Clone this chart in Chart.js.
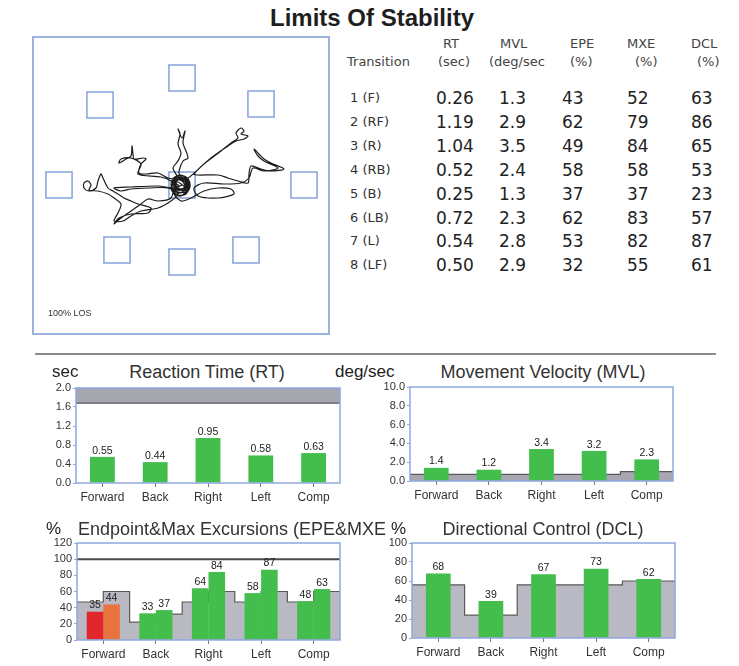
<!DOCTYPE html>
<html>
<head>
<meta charset="utf-8">
<script src="https://cdn.jsdelivr.net/npm/chart.js@4.4.0/dist/chart.umd.min.js"></script>
<style>
  html, body { margin: 0; padding: 0; background: #fff; }
  #page { position: relative; width: 739px; height: 666px; overflow: hidden;
          font-family: "Liberation Sans", Arial, sans-serif; color: #2b2b2b; }
  .abs { position: absolute; white-space: nowrap; }
  .title { font-weight: bold; font-size: 24px; line-height: 26px; color: #1e1e1e; text-align: center; }
  .ctitle { font-size: 18px; line-height: 20px; color: #333; }
  .unit { font-size: 17px; line-height: 20px; color: #222; }
  .tbl { font-family: "DejaVu Sans", Verdana, sans-serif; }
  .hdr { font-size: 13px; line-height: 16px; color: #444; }
  .rowlab { font-size: 13px; line-height: 24px; color: #333; }
  .val { font-size: 17px; line-height: 24px; color: #222; }
  canvas { position: absolute; }
</style>
</head>
<body>
<div id="page">
  <div class="abs title" style="left:222px; top:5px; width:300px;">Limits Of Stability</div>

  <!-- trace panel -->
  <div class="abs" style="left:32px; top:36px; width:294px; height:295px; border:2px solid #9cb2de;"></div>
  <canvas id="trace" width="294" height="295" style="left:34px; top:38px;"></canvas>
  <div class="abs" style="left:48px; top:307px; font-size:9px; line-height:12px; color:#333;">100% LOS</div>

  <!-- results table -->
  <div id="table" class="tbl"></div>

  <div class="abs" style="left:35px; top:353px; width:681px; height:2px; background:#8c8c8c;"></div>

  <!-- chart headings -->
  <div class="abs unit" style="left:52px; top:362px;">sec</div>
  <div class="abs ctitle" style="left:107px; top:362px; width:200px; text-align:center;">Reaction Time (RT)</div>
  <div class="abs unit" style="left:335px; top:362px;">deg/sec</div>
  <div class="abs ctitle" style="left:433px; top:362px; width:220px; text-align:center;">Movement Velocity (MVL)</div>
  <div class="abs unit" style="left:46px; top:519px;">%</div>
  <div class="abs ctitle" style="left:78px; top:519px;">Endpoint&amp;Max Excursions (EPE&amp;MXE</div>
  <div class="abs unit" style="left:391px; top:519px;">%</div>
  <div class="abs ctitle" style="left:433px; top:519px; width:220px; text-align:center;">Directional Control (DCL)</div>

  <canvas id="rt-bg"></canvas><canvas id="rt"></canvas>
  <canvas id="mvl-bg"></canvas><canvas id="mvl"></canvas>
  <canvas id="epe-bg"></canvas><canvas id="epe"></canvas>
  <canvas id="dcl-bg"></canvas><canvas id="dcl"></canvas>
</div>

<script>
// ---- Transition table ----
const transitions = ['1 (F)', '2 (RF)', '3 (R)', '4 (RB)', '5 (B)', '6 (LB)', '7 (L)', '8 (LF)'];
const tableRT  = ['0.26', '1.19', '1.04', '0.52', '0.25', '0.72', '0.54', '0.50'];
const tableMVL = ['1.3', '2.9', '3.5', '2.4', '1.3', '2.3', '2.8', '2.9'];
const tableEPE = [43, 62, 49, 58, 37, 62, 53, 32];
const tableMXE = [52, 79, 84, 58, 37, 83, 82, 55];
const tableDCL = [63, 86, 65, 53, 23, 57, 87, 61];

// ---- Summary bar charts ----
const directions = ['Forward', 'Back', 'Right', 'Left', 'Comp'];
const rtValues  = [0.55, 0.44, 0.95, 0.58, 0.63];
const rtLimit   = [1.68, 1.68, 1.68, 1.68, 1.68];
const mvlValues = [1.4, 1.2, 3.4, 3.2, 2.3];
const mvlNorm   = [0.7, 0.7, 0.7, 0.7, 1.0];
const epeValues = [35, 33, 64, 58, 48];
const mxeValues = [44, 37, 84, 87, 63];
const epeNorm   = [47, 22, 47, 47, 47];
const mxeNorm   = [60, 32, 60, 60, 60];
const dclValues = [68, 39, 67, 73, 62];
const dclNorm   = [56, 24, 56, 56, 60];

// ---- Target layout and centre-of-gravity trace (LOS units, centre = 0,0) ----
const targetX = [0, 0, -82, 79, -123, 122, -65, 0, 64];
const targetY = [0, 107, 80, 81, 0, 0, -65, -77, -65];
const traceX = [-3,-8,2,6,-1,-9,-9,1,7,4,-6,-11,-4,4,2,-4,-7,-3,5,6,-5,-8,0,7,3,-5,-10,-2,6,8,2,-7,-11,-6,3,1,-6,-9,-1,5,0,-8,-10,-4,4,8,4,-3,-10,-7,0,3,-4,-6,
  -4,-9,-4,-1,-4,-2,-4,0,3,1,4,6,1,-3,-3,
  -14,-24,-36,-43,-41,-36,-39,-48,-49,-50,-51,-56,-63,-61,-51,-41,-44,-21,-11,
  -5,5,6,-2,
  6,22,39,49,56,54,59,62,59,66,62,54,46,29,12,
  16,36,46,56,66,67,69,79,89,102,89,82,77,72,76,82,96,82,71,67,59,42,22,12,
  16,36,52,49,36,22,9,-1,
  -8,3,-6,
  -11,-24,-34,-41,-51,-61,-68,-63,-51,-34,-31,-44,-51,-58,-64,-69,-74,-79,-81,-84,-86,-93,-98,-98,-94,-91,-93,-84,-74,-68,-61,-64,-68,-59,-51,-41,-24,-11,-4,
  -14,-34,-51,-61,-68,-51,-24,-8,0];
const traceY = [-1,4,6,-3,-11,-6,2,7,1,-9,-10,-3,5,2,-6,-8,-1,7,4,-6,-7,0,9,3,-5,-2,5,10,6,-2,-10,-9,1,8,3,-4,-4,4,6,0,-7,-6,0,9,8,1,-7,-11,-4,5,4,-2,-4,2,
  7,17,24,32,41,51,56,47,54,42,34,27,24,14,7,
  7,12,11,12,21,26,27,26,31,39,29,26,22,26,27,21,11,8,4,
  -4,-5,4,8,
  7,21,34,42,47,52,57,54,51,49,46,44,39,27,11,
  10,10,7,4,2,11,19,16,14,16,22,26,31,36,29,24,17,14,17,7,2,1,2,-3,
  -11,-13,-9,-4,-3,-6,-13,-16,
  -8,-3,3,
  -13,-16,-14,-19,-26,-33,-39,-33,-29,-28,-23,-19,-16,-13,-9,-6,-3,7,11,4,-3,-6,-3,2,4,0,-5,-6,-9,-13,-19,-28,-36,-36,-31,-26,-23,-16,-9,
  -3,-3,-4,-6,-3,-2,-1,-3,0];

// build the table as text
(function buildTable() {
  const host = document.getElementById('table');
  const add = (cls, text, left, top) => {
    const d = document.createElement('div');
    d.className = 'abs ' + cls;
    d.style.left = left + 'px';
    d.style.top = top + 'px';
    d.textContent = text;
    host.appendChild(d);
  };
  const heads = [
    ['RT', 443, 36], ['(sec)', 438, 54],
    ['MVL', 500, 36], ['(deg/sec', 489, 54],
    ['EPE', 570, 36], ['(%)', 570, 54],
    ['MXE', 627, 36], ['(%)', 635, 54],
    ['DCL', 691, 36], ['(%)', 697, 54],
    ['Transition', 347, 54]
  ];
  heads.forEach(h => add('hdr', h[0], h[1], h[2]));
  const y0 = 86, step = 23.9;
  transitions.forEach((t, i) => {
    const top = Math.round(y0 + i * step);
    add('rowlab', t, 350, top);
    add('val', tableRT[i], 436, top);
    add('val', tableMVL[i], 499, top);
    add('val', String(tableEPE[i]), 562, top);
    add('val', String(tableMXE[i]), 627, top);
    add('val', String(tableDCL[i]), 691, top);
  });
})();

Chart.defaults.font.family = '"Liberation Sans", Arial, sans-serif';
Chart.defaults.color = '#333';
Chart.defaults.animation = false;
Chart.defaults.plugins.legend.display = false;
Chart.defaults.plugins.tooltip.enabled = false;

// ---- trace panel ----
new Chart(document.getElementById('trace'), {
  type: 'scatter',
  data: {
    datasets: [
      {
        data: traceX.map((x, i) => ({ x, y: traceY[i] })),
        showLine: true, pointRadius: 0, borderColor: '#1c1c1c', borderWidth: 1.2,
        tension: 0.3
      },
      {
        data: targetX.map((x, i) => ({ x, y: targetY[i] })),
        pointStyle: 'rect', pointRadius: 18.5, pointBorderWidth: 1.5,
        pointBorderColor: '#86a2da', pointBackgroundColor: 'rgba(255,255,255,0)',
        showLine: false
      }
    ]
  },
  options: {
    responsive: false,
    layout: { padding: 0, autoPadding: false },
    scales: {
      x: { type: 'linear', min: -148, max: 146, display: false },
      y: { type: 'linear', min: -148, max: 147, display: false }
    }
  }
});

// ---- bar chart helpers ----
const BLUE = '#8ea8de';
const GREEN = '#43be4c';
const GRAY_FILL = '#b9b9c3';
const GRAY_LINE = '#5f5858';
const NONE = 'rgba(0,0,0,0)';

function framePlugin(fmt) {
  return {
    id: 'frameAndValues',
    afterDatasetsDraw(chart) {
      const { ctx, chartArea: a } = chart;
      ctx.save();
      ctx.font = '10.5px "Liberation Sans", Arial, sans-serif';
      ctx.fillStyle = '#222';
      ctx.textAlign = 'center';
      ctx.textBaseline = 'bottom';
      chart.data.datasets.forEach((ds, i) => {
        chart.getDatasetMeta(i).data.forEach((bar, j) => {
          ctx.fillText(fmt(ds.data[j]), bar.x, bar.y - 1);
        });
      });
      ctx.strokeStyle = BLUE;
      ctx.lineWidth = 1.5;
      ctx.strokeRect(a.left, a.top, a.right - a.left, a.bottom - a.top);
      ctx.restore();
    }
  };
}

function stepPoints(first, second) {
  // one value per category (or two per category, split in halves)
  const pts = [];
  first.forEach((v, i) => {
    pts.push({ x: i, y: v });
    if (second) pts.push({ x: i + 0.5, y: second[i] });
  });
  const last = second ? second[second.length - 1] : first[first.length - 1];
  pts.push({ x: first.length, y: last });
  return pts;
}

const yW = 46, xH = 24, padT = 10, padR = 10;

function scaleOptions(cfg, visible) {
  const tickCol = visible ? '#333' : NONE;
  return {
    x: {
      type: 'category', offset: true,
      grid: { display: true, drawOnChartArea: false, offset: false, tickLength: 4,
              color: visible ? '#777' : NONE },
      border: { display: false },
      ticks: { font: { size: 12 }, padding: 3, color: tickCol, maxRotation: 0, autoSkip: false },
      afterFit(s) { s.height = xH; }
    },
    xs: { type: 'linear', min: 0, max: directions.length, display: false },
    y: {
      min: cfg.min, max: cfg.max,
      ticks: { stepSize: cfg.step, font: { size: 11 }, padding: 2, color: tickCol,
               autoSkip: false, callback: cfg.tick },
      grid: { drawOnChartArea: false, tickLength: 3, color: visible ? BLUE : NONE },
      border: { display: false },
      afterFit(s) { s.width = yW; }
    }
  };
}

function place(cv, area) {
  cv.width = area.R - area.L + yW + padR;
  cv.height = area.B - area.T + padT + xH;
  cv.style.left = (area.L - yW) + 'px';
  cv.style.top = (area.T - padT) + 'px';
}

function barChart(id, area, cfg) {
  const layout = { padding: { top: padT, right: padR, left: 0, bottom: 0 }, autoPadding: false };
  // reference bands (normal ranges) underneath
  const bg = document.getElementById(id + '-bg');
  place(bg, area);
  new Chart(bg, {
    type: 'line',
    data: { labels: directions, datasets: cfg.bands },
    options: { responsive: false, layout, scales: scaleOptions(cfg, false) }
  });
  // measured bars, axes and frame on top
  const cv = document.getElementById(id);
  place(cv, area);
  new Chart(cv, {
    type: 'bar',
    data: { labels: directions, datasets: cfg.bars },
    options: { responsive: false, layout, scales: scaleOptions(cfg, true) },
    plugins: [framePlugin(cfg.fmt)]
  });
}

function bars(values, colors, pct) {
  return { data: values, backgroundColor: colors, borderWidth: 0,
           categoryPercentage: pct, barPercentage: 1 };
}
function band(points, fill, color) {
  return { data: points, xAxisID: 'xs', stepped: true, fill: fill,
           backgroundColor: color || GRAY_FILL, borderColor: GRAY_LINE, borderWidth: 1.2,
           pointRadius: 0 };
}

// Reaction time
barChart('rt', { L: 76, T: 388, R: 340, B: 483 }, {
  min: 0, max: 2, step: 0.4, tick: v => v.toFixed(1), fmt: v => v.toFixed(2),
  bars: [bars(rtValues, GREEN, 0.47)],
  bands: [band(stepPoints(rtLimit), 'end', '#a6a6ae')]
});

// Movement velocity
barChart('mvl', { L: 410, T: 387, R: 673, B: 481 }, {
  min: 0, max: 10, step: 2, tick: v => v.toFixed(1), fmt: v => v.toFixed(1),
  bars: [bars(mvlValues, GREEN, 0.47)],
  bands: [band(stepPoints(mvlNorm), 'origin', '#a7a7b3')]
});

// Endpoint & maximum excursion
barChart('epe', { L: 77, T: 543, R: 340, B: 640 }, {
  min: 0, max: 120, step: 20, tick: v => String(v), fmt: v => String(v),
  bars: [
    bars(epeValues, epeValues.map((v, i) => i === 0 ? '#e3262b' : GREEN), 0.63),
    bars(mxeValues, mxeValues.map((v, i) => i === 0 ? '#e8733c' : GREEN), 0.63)
  ],
  bands: [
    { data: [{ x: 0, y: 100 }, { x: directions.length, y: 100 }], xAxisID: 'xs',
      borderColor: '#4a4a4a', borderWidth: 2, pointRadius: 0, fill: false },
    band(stepPoints(epeNorm, mxeNorm), 'origin')
  ]
});

// Directional control
barChart('dcl', { L: 412, T: 543, R: 675, B: 638 }, {
  min: 0, max: 100, step: 20, tick: v => String(v), fmt: v => String(v),
  bars: [bars(dclValues, GREEN, 0.47)],
  bands: [band(stepPoints(dclNorm), 'origin')]
});
</script>
</body>
</html>
